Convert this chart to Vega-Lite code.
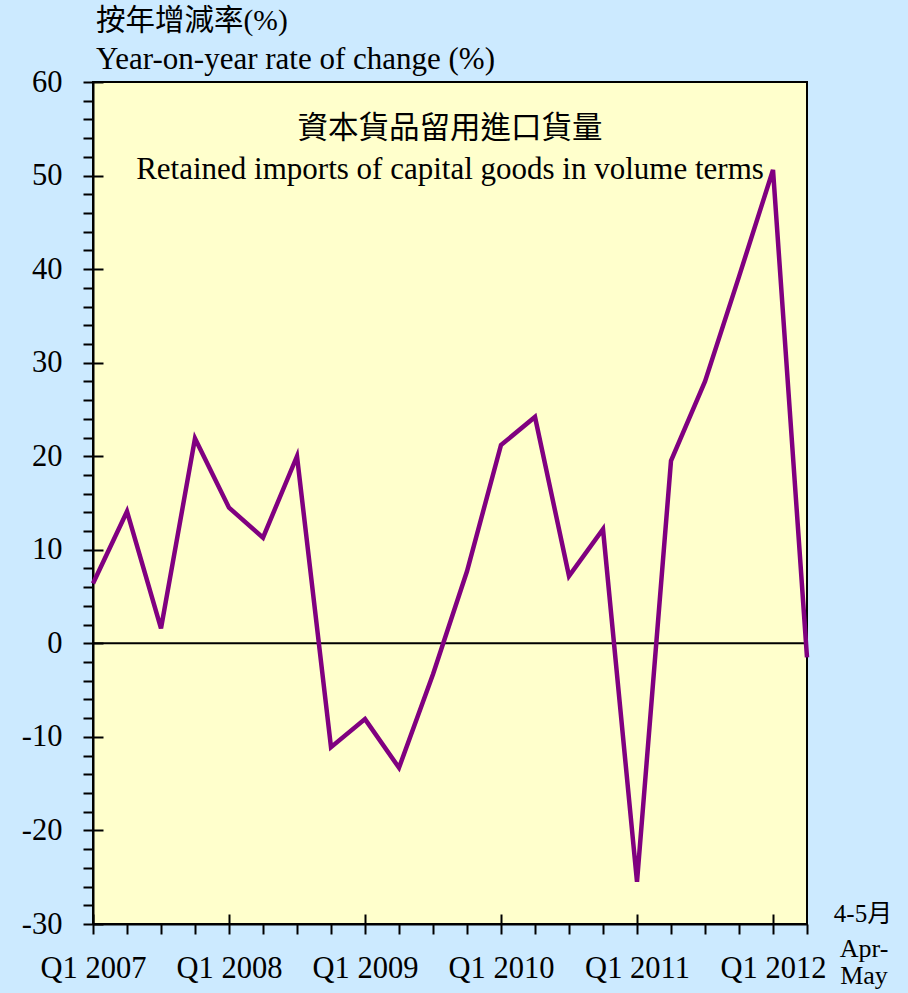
{
  "$schema": "https://vega.github.io/schema/vega-lite/v6.json",
  "width": 714,
  "height": 842,
  "autosize": {"type": "none"},
  "padding": {"left": 93, "top": 82, "right": 101, "bottom": 69},
  "background": "#CCEAFF",
  "config": {
    "view": {"fill": "#FFFFCC", "stroke": "#000000", "strokeWidth": 2},
    "font": "Liberation Serif"
  },
  "title": {
    "text": "按年增減率(%)",
    "subtitle": "Year-on-year rate of change (%)",
    "anchor": "start",
    "frame": "group",
    "dx": 3,
    "offset": -9,
    "font": "Liberation Serif, Noto Sans CJK TC",
    "fontSize": 29.5,
    "fontWeight": "normal",
    "color": "#000000",
    "subtitleFont": "Liberation Serif",
    "subtitleFontSize": 31,
    "subtitleColor": "#000000",
    "subtitlePadding": 9
  },
  "data": {
    "values": [
      {"period": "Q1 2007", "t": 0, "v": 6.4},
      {"period": "Q2 2007", "t": 1, "v": 14.1},
      {"period": "Q3 2007", "t": 2, "v": 1.6},
      {"period": "Q4 2007", "t": 3, "v": 21.9},
      {"period": "Q1 2008", "t": 4, "v": 14.5},
      {"period": "Q2 2008", "t": 5, "v": 11.3},
      {"period": "Q3 2008", "t": 6, "v": 20.0},
      {"period": "Q4 2008", "t": 7, "v": -11.1},
      {"period": "Q1 2009", "t": 8, "v": -8.1},
      {"period": "Q2 2009", "t": 9, "v": -13.3},
      {"period": "Q3 2009", "t": 10, "v": -3.3},
      {"period": "Q4 2009", "t": 11, "v": 7.7},
      {"period": "Q1 2010", "t": 12, "v": 21.2},
      {"period": "Q2 2010", "t": 13, "v": 24.2},
      {"period": "Q3 2010", "t": 14, "v": 7.2},
      {"period": "Q4 2010", "t": 15, "v": 12.2},
      {"period": "Q1 2011", "t": 16, "v": -25.5},
      {"period": "Q2 2011", "t": 17, "v": 19.5},
      {"period": "Q3 2011", "t": 18, "v": 28.0},
      {"period": "Q4 2011", "t": 19, "v": 39.2},
      {"period": "Q1 2012", "t": 20, "v": 50.6},
      {"period": "Apr-May 2012", "t": 21, "v": -1.5}
    ]
  },
  "resolve": {"axis": {"x": "independent", "y": "independent"}},
  "layer": [
    {
      "data": {"values": [{}]},
      "mark": {"type": "rule", "color": "#000000", "strokeWidth": 2},
      "encoding": {
        "y": {"datum": 0, "type": "quantitative", "scale": {"domain": [-30, 60], "nice": false, "zero": false},
          "axis": {"orient": "left", "values": [-30, -20, -10, 0, 10, 20, 30, 40, 50, 60], "tickSize": -10, "tickWidth": 2, "tickColor": "#000000", "labels": false, "domain": false, "grid": false, "title": null}},
        "x": {"datum": 0, "type": "quantitative", "scale": {"domain": [0, 21], "nice": false, "zero": false},
          "axis": {"orient": "bottom", "values": [0, 4, 8, 12, 16, 20], "tickSize": -10, "tickWidth": 2, "tickColor": "#000000", "labels": false, "domain": false, "grid": false, "title": null}},
        "x2": {"datum": 21}
      }
    },
    {
      "mark": {"type": "line", "color": "#800080", "strokeWidth": 4.5, "strokeJoin": "miter"},
      "encoding": {
        "x": {"field": "t", "type": "quantitative",
          "axis": {"orient": "bottom", "values": [0,1,2,3,4,5,6,7,8,9,10,11,12,13,14,15,16,17,18,19,20,21],
            "labelExpr": "datum.value % 4 == 0 && datum.value <= 20 ? 'Q1 ' + (2007 + datum.value / 4) : ''",
            "tickSize": 10, "tickWidth": 2, "tickColor": "#000000", "domain": true, "domainColor": "#000000", "domainWidth": 2,
            "labelFont": "Liberation Serif", "labelFontSize": 30.5, "labelColor": "#000000", "labelPadding": 19,
            "labelOverlap": false, "labelFlush": false, "grid": false, "title": null}},
        "y": {"field": "v", "type": "quantitative",
          "axis": {"orient": "left", "values": [-30,-28,-26,-24,-22,-20,-18,-16,-14,-12,-10,-8,-6,-4,-2,0,2,4,6,8,10,12,14,16,18,20,22,24,26,28,30,32,34,36,38,40,42,44,46,48,50,52,54,56,58,60],
            "labelExpr": "datum.value % 10 == 0 ? '' + datum.value : ''",
            "tickSize": 10, "tickWidth": 2, "tickColor": "#000000", "domain": true, "domainColor": "#000000", "domainWidth": 2,
            "labelFont": "Liberation Serif", "labelFontSize": 30.5, "labelColor": "#000000", "labelPadding": 21,
            "labelOverlap": false, "labelFlush": false, "grid": false, "title": null}}
      }
    },
    {
      "data": {"values": [{}]},
      "mark": {"type": "text", "font": "Liberation Serif, Noto Sans CJK TC", "fontSize": 30.5, "align": "center", "baseline": "middle", "color": "#000000"},
      "encoding": {
        "x": {"datum": 10.5, "type": "quantitative", "axis": null},
        "y": {"datum": 55.0, "type": "quantitative", "axis": null},
        "text": {"value": "資本貨品留用進口貨量"}
      }
    },
    {
      "data": {"values": [{}]},
      "mark": {"type": "text", "font": "Liberation Serif", "fontSize": 31, "align": "center", "baseline": "alphabetic", "color": "#000000"},
      "encoding": {
        "x": {"datum": 10.5, "type": "quantitative", "axis": null},
        "y": {"datum": 49.6, "type": "quantitative", "axis": null},
        "text": {"value": "Retained imports of capital goods in volume terms"}
      }
    },
    {
      "data": {"values": [{}]},
      "mark": {"type": "text", "font": "Liberation Serif, Noto Sans CJK TC", "fontSize": 25, "align": "center", "baseline": "alphabetic", "color": "#000000", "dx": 56, "dy": -2},
      "encoding": {
        "x": {"datum": 21, "type": "quantitative", "axis": null},
        "y": {"datum": -30, "type": "quantitative", "axis": null},
        "text": {"value": "4-5月"}
      }
    },
    {
      "data": {"values": [{}]},
      "mark": {"type": "text", "font": "Liberation Serif", "fontSize": 26, "align": "center", "baseline": "alphabetic", "color": "#000000", "dx": 57, "dy": 33, "lineHeight": 27},
      "encoding": {
        "x": {"datum": 21, "type": "quantitative", "axis": null},
        "y": {"datum": -30, "type": "quantitative", "axis": null},
        "text": {"value": ["Apr-", "May"]}
      }
    }
  ]
}
